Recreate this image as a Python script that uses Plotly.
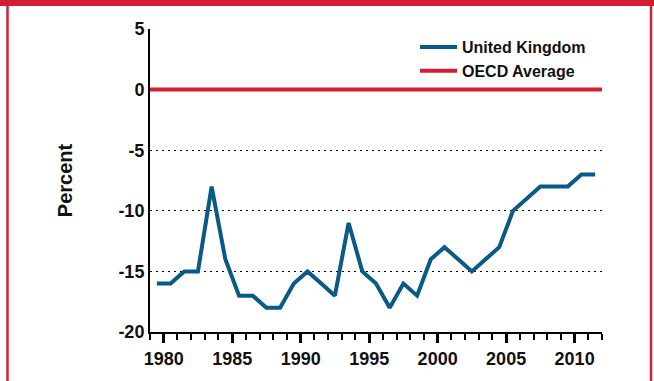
import plotly.graph_objects as go

# Data
years = list(range(1979, 2012))
uk_values = [-16, -16, -15, -15, -8, -14, -17, -17, -18, -18, -16, -15, -16, -17, -11,
             -15, -16, -18, -16, -17, -14, -13, -14, -15, -14, -13, -10, -9, -8, -8,
             -8, -7, -7]
oecd_years = [1979, 2012]
oecd_values = [0, 0]
y_tickvals = [5, 0, -5, -10, -15, -20]
y_ticktext = ["5", "0", "-5", "-10", "-15", "-20"]
x_tickvals = [1980, 1985, 1990, 1995, 2000, 2005, 2010]
x_ticktext = ["1980", "1985", "1990", "1995", "2000", "2005", "2010"]

BLUE = "#0b5a86"
RED = "#d21f35"
FONT = "Liberation Sans, Arial"

fig = go.Figure()
fig.add_trace(go.Scatter(
    x=[y + 0.5 for y in years], y=uk_values, mode="lines", name="United Kingdom",
    line=dict(color=BLUE, width=4), cliponaxis=False))
fig.add_trace(go.Scatter(
    x=oecd_years, y=oecd_values, mode="lines", name="OECD Average",
    line=dict(color=RED, width=4), cliponaxis=False))

W, H = 654, 381
L, R, T, B = 150, 52, 29, 49
pw, ph = W - L - R, H - T - B

def px_x(p):
    return (p - L) / pw

def px_y(p):
    return (H - B - p) / ph

shapes = [
    dict(type="rect", xref="paper", yref="paper", x0=px_x(-2), x1=px_x(W + 2), y0=px_y(6), y1=px_y(-2),
         fillcolor=RED, line=dict(width=0), layer="above"),
    dict(type="line", xref="paper", yref="paper", x0=px_x(7.5), x1=px_x(7.5), y0=px_y(H + 2), y1=px_y(0),
         line=dict(color=RED, width=2.5), layer="above"),
    dict(type="line", xref="paper", yref="paper", x0=px_x(651), x1=px_x(651), y0=px_y(H + 2), y1=px_y(0),
         line=dict(color=RED, width=2.5), layer="above"),
]

fig.update_layout(
    width=W, height=H,
    margin=dict(l=L, r=R, t=T, b=B),
    paper_bgcolor="white", plot_bgcolor="white",
    font=dict(family=FONT, color="#111111"),
    shapes=shapes,
    showlegend=True,
    legend=dict(x=px_x(415), y=px_y(30), xanchor="left", yanchor="top",
                bgcolor="rgba(0,0,0,0)", font=dict(size=16, weight="bold", color="#111111"),
                tracegroupgap=0, itemwidth=37),
    xaxis=dict(range=[1979, 2012], showgrid=False, zeroline=False,
               showline=True, linecolor="black", linewidth=2,
               tickmode="array", tickvals=x_tickvals, ticktext=x_ticktext,
               ticks="outside", ticklen=9, tickwidth=3, tickcolor="black",
               tickfont=dict(size=18, weight="bold", color="#111111"),
               minor=dict(dtick=1, tick0=1979, ticks="outside", ticklen=6, tickwidth=1.5,
                          tickcolor="black", showgrid=False)),
    yaxis=dict(range=[-20, 5], showgrid=True, gridcolor="black", gridwidth=1.2,
               griddash="2px,4px", zeroline=False,
               showline=True, linecolor="black", linewidth=2,
               tickmode="array", tickvals=y_tickvals, ticktext=y_ticktext, ticks="",
               tickfont=dict(size=18, weight="bold", color="#111111"),
               title=dict(text="Percent", font=dict(size=20, weight="bold", color="#111111"),
                          standoff=40)),
)

fig.write_html("out.html", config={"displayModeBar": False},
               post_script="document.body.style.margin='0';")
